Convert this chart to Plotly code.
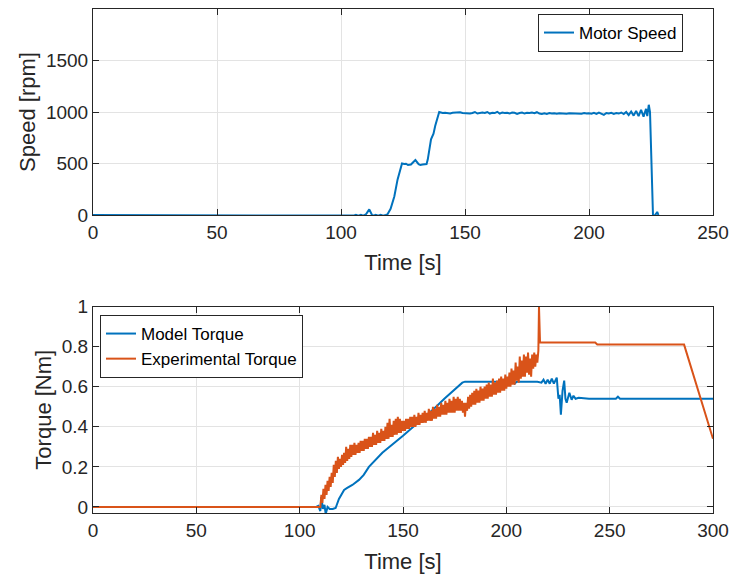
import plotly.graph_objects as go

# ---------------- data ----------------
speed_t = [0, 104, 105, 106, 107, 108, 109, 110, 111.4, 112.5, 113, 114, 115, 116, 117, 118,
           118.7, 120, 121.5, 122.8, 124, 124.6, 125.5, 126.2, 127, 128.2, 129, 130, 131.3, 132,
           132.9, 134.5, 135, 135.6, 136.3, 137.3, 138, 139.6,
           141, 142, 143, 144, 145, 146, 147, 148, 149, 150, 151, 152, 153, 154, 155, 156, 157,
           158, 159, 160, 161, 162, 163, 164, 165, 166, 167, 168, 169, 170, 171, 172, 173, 174,
           175, 176, 177, 178, 179, 180, 181, 182, 183, 184, 185, 186, 187, 188, 189, 190, 191,
           192, 193, 194, 195, 196, 197, 198, 199, 200, 201, 202, 203, 204, 205, 206, 207, 208,
           209, 210, 211, 212, 213, 214, 215, 216, 217, 218, 219, 220, 221, 222, 223, 223.5,
           224.1, 224.6, 225.8, 226.3, 227, 227.5, 228]
speed_rpm = [0, 0, -6, 2, -6, 2, -6, 5, 55, 0, -6, 2, -6, 2, -6, 0,
             5, 60, 180, 343, 460, 500, 495, 498, 485, 490, 510, 533, 493, 485,
             490, 495, 540, 637, 735, 790, 866, 1000,
             990, 992, 988, 985, 992, 995, 1000, 998, 990, 988, 992, 985, 990, 1000, 985, 992, 995,
             990, 1000, 985, 992, 990, 1002, 985, 995, 990, 993, 985, 995, 992, 982, 990, 995, 985,
             992, 990, 995, 988, 998, 985, 980, 988, 982, 990, 985, 988, 983, 987, 985, 988, 984,
             987, 985, 988, 985, 986, 984, 990, 985, 988, 984, 992, 982, 995, 985, 972, 990, 985,
             992, 982, 990, 985, 995, 980, 1000, 970, 1005, 965, 1010, 960, 1020, 955, 1030, 960,
             1070, 1000, 0, -10, 10, 30, 0]

model_t = [0, 108, 109, 110, 110.5, 111.2, 112, 112.6, 113.5, 114.5, 116, 117.4, 119, 120,
           121.5, 123, 125.5, 128.7, 131, 133.5, 135, 136.8, 138, 140, 150, 160, 165, 170, 175,
           178.7, 180, 190, 200, 203, 204, 205, 215, 217, 218, 219, 220, 221, 222, 223, 224.4,
           225.2, 225.8, 226.4, 227.2, 228, 228.6, 229.2, 230.5, 231.6, 232.5, 233.5, 235, 240,
           253, 254, 255, 300]
model_torque = [0, 0, 0.005, -0.02, 0.05, -0.01, 0.01, -0.035, 0.0, -0.01, -0.01, -0.005, 0.04,
                0.06, 0.085, 0.095, 0.11, 0.135, 0.16, 0.20, 0.215, 0.235, 0.25, 0.27, 0.355,
                0.445, 0.49, 0.54, 0.585, 0.62, 0.625, 0.625, 0.625, 0.625, 0.615, 0.625, 0.625,
                0.62, 0.635, 0.615, 0.635, 0.615, 0.64, 0.615, 0.645, 0.54, 0.56, 0.46, 0.58,
                0.63, 0.54, 0.52, 0.57, 0.535, 0.555, 0.54, 0.545, 0.54, 0.54, 0.55, 0.54, 0.54]

# experimental torque: noisy ramp sampled every 0.5 s from t = 110 s
exp_noisy = [
    0.00, 0.06, 0.02, 0.09, 0.04, 0.11, 0.06, 0.13, 0.08, 0.15,   # 110.0 - 114.5
    0.10, 0.17, 0.12, 0.21, 0.15, 0.23, 0.17, 0.25, 0.19, 0.24,   # 115.0 - 119.5
    0.20, 0.26, 0.21, 0.27, 0.22, 0.30, 0.23, 0.29, 0.24, 0.31,   # 120.0 - 124.5
    0.25, 0.31, 0.26, 0.32, 0.26, 0.31, 0.27, 0.32, 0.27, 0.33,   # 125.0 - 129.5
    0.28, 0.33, 0.28, 0.34, 0.29, 0.34, 0.29, 0.35, 0.30, 0.35,   # 130.0 - 134.5
    0.30, 0.37, 0.31, 0.36, 0.31, 0.38, 0.32, 0.37, 0.32, 0.39,   # 135.0 - 139.5
    0.33, 0.38, 0.33, 0.40, 0.34, 0.42, 0.34, 0.44, 0.35, 0.41,   # 140.0 - 144.5
    0.35, 0.43, 0.36, 0.44, 0.36, 0.45, 0.37, 0.44, 0.37, 0.43,   # 145.0 - 149.5
    0.38, 0.43, 0.38, 0.44, 0.39, 0.44, 0.39, 0.45, 0.40, 0.45,   # 150.0 - 154.5
    0.40, 0.46, 0.40, 0.45, 0.41, 0.47, 0.41, 0.46, 0.42, 0.47,   # 155.0 - 159.5
    0.42, 0.48, 0.42, 0.47, 0.43, 0.49, 0.43, 0.48, 0.43, 0.50,   # 160.0 - 164.5
    0.44, 0.49, 0.44, 0.51, 0.45, 0.50, 0.45, 0.52, 0.46, 0.51,   # 165.0 - 169.5
    0.46, 0.53, 0.46, 0.52, 0.47, 0.54, 0.47, 0.53, 0.47, 0.55,   # 170.0 - 174.5
    0.47, 0.54, 0.48, 0.55, 0.48, 0.54, 0.48, 0.53, 0.47, 0.52,   # 175.0 - 179.5
    0.45, 0.52, 0.48, 0.55, 0.49, 0.56, 0.50, 0.57, 0.51, 0.58,   # 180.0 - 184.5
    0.51, 0.59, 0.52, 0.58, 0.52, 0.60, 0.53, 0.59, 0.53, 0.60,   # 185.0 - 189.5
    0.54, 0.61, 0.54, 0.62, 0.55, 0.61, 0.55, 0.64, 0.56, 0.62,   # 190.0 - 194.5
    0.56, 0.63, 0.57, 0.64, 0.57, 0.65, 0.58, 0.64, 0.58, 0.66,   # 195.0 - 199.5
    0.59, 0.65, 0.60, 0.67, 0.60, 0.69, 0.61, 0.68, 0.61, 0.72,   # 200.0 - 204.5
    0.63, 0.70, 0.62, 0.75, 0.64, 0.73, 0.65, 0.76, 0.65, 0.75,   # 205.0 - 209.5
    0.67, 0.77, 0.66, 0.74, 0.65, 0.76, 0.69, 0.77, 0.70, 0.76,   # 210.0 - 214.5
    0.72, 0.78,                                                   # 215.0 - 215.5
]
exp_noisy_t = [110 + 0.5 * i for i in range(len(exp_noisy))]
exp_t = [0] + exp_noisy_t + [215.8, 216.3, 243, 244, 286, 300]
exp_torque = [0] + exp_noisy + [1.0, 0.82, 0.82, 0.81, 0.81, 0.34]

speed_xticks = [0, 50, 100, 150, 200, 250]
speed_yticks = [0, 500, 1000, 1500]
torque_xticks = [0, 50, 100, 150, 200, 250, 300]
torque_yticks = [0, 0.2, 0.4, 0.6, 0.8, 1]
torque_yticklabels = ["0", "0.2", "0.4", "0.6", "0.8", "1"]

# ---------------- figure ----------------
BLUE = "#0072BD"
ORANGE = "#D95319"
AX = "#262626"
GRID = "#e3e3e3"
FONT = "Liberation Sans"

fig = go.Figure()
fig.add_trace(go.Scatter(x=speed_t, y=speed_rpm, mode="lines", name="Motor Speed",
                         line=dict(color=BLUE, width=2), xaxis="x", yaxis="y", legend="legend"))
fig.add_trace(go.Scatter(x=model_t, y=model_torque, mode="lines", name="Model Torque",
                         line=dict(color=BLUE, width=2), xaxis="x2", yaxis="y2", legend="legend2"))
fig.add_trace(go.Scatter(x=exp_t, y=exp_torque, mode="lines", name="Experimental Torque",
                         line=dict(color=ORANGE, width=2), xaxis="x2", yaxis="y2", legend="legend2"))

axis_common = dict(showline=True, linecolor=AX, linewidth=1, mirror="ticks", ticks="inside",
                   ticklen=6, tickcolor=AX, showgrid=True, gridcolor=GRID, gridwidth=1,
                   zeroline=False, automargin=False,
                   tickfont=dict(family=FONT, size=19, color=AX),
                   title_font=dict(family=FONT, size=22, color=AX))

W, HT = 732, 574
ML, MR, MT, MB = 93, 19, 9, 61
H = HT - MT - MB
PW = W - ML - MR
top_dom = [1 - (215 - MT) / H, 1.0]
bot_dom = [0.0, 1 - (306.5 - MT) / H]

fig.update_layout(
    width=W, height=HT, margin=dict(l=ML, r=MR, t=MT, b=MB, autoexpand=False),
    paper_bgcolor="white", plot_bgcolor="white", showlegend=True,
    xaxis=dict(domain=[0, 1], range=[0, 250], tickvals=speed_xticks, anchor="y",
               title=dict(text="Time [s]", standoff=12), **axis_common),
    yaxis=dict(domain=top_dom, range=[0, 2000], tickvals=speed_yticks,
               anchor="x", title=dict(text="Speed [rpm]", standoff=4), **axis_common),
    xaxis2=dict(domain=[0, 1], range=[0, 300], tickvals=torque_xticks, anchor="y2",
                title=dict(text="Time [s]", standoff=13), **axis_common),
    yaxis2=dict(domain=bot_dom, range=[-0.03, 1.0],
                tickvals=torque_yticks, ticktext=torque_yticklabels, anchor="x2",
                title=dict(text="Torque [Nm]", standoff=4), **axis_common),
    legend=dict(x=(683 - ML) / PW, y=1 - (14 - MT) / H, xanchor="right", yanchor="top",
                bgcolor="white", bordercolor=AX, borderwidth=1, itemwidth=30,
                font=dict(family=FONT, size=17, color="black"), tracegroupgap=0),
    legend2=dict(x=(100 - ML) / PW, y=1 - (315 - MT) / H, xanchor="left", yanchor="top",
                 bgcolor="white", bordercolor=AX, borderwidth=1, itemwidth=30,
                 font=dict(family=FONT, size=17, color="black"), tracegroupgap=0),
)

# remove the browser's default 8 px page margin so the 732x574 figure fills the window
fig.write_html("out.html",
               config={"displayModeBar": False},
               post_script="document.body.style.margin='0';document.body.style.overflow='hidden';")
